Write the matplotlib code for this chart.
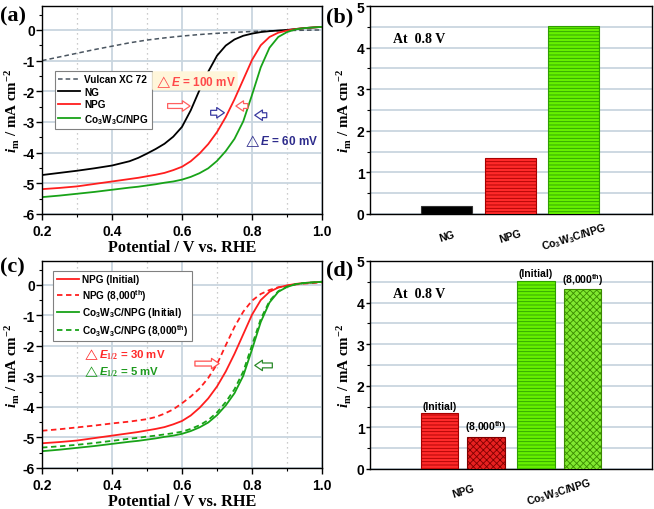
import matplotlib
matplotlib.use("Agg")
import matplotlib.pyplot as plt
from matplotlib.ticker import MultipleLocator, FixedLocator

plt.rcParams['axes.unicode_minus'] = False
plt.rcParams['mathtext.fontset'] = 'custom'
plt.rcParams['mathtext.rm'] = 'Liberation Serif:bold'
plt.rcParams['mathtext.cal'] = 'Liberation Serif:italic:bold'
plt.rcParams['mathtext.it'] = 'Liberation Sans:italic:bold'
plt.rcParams['mathtext.sf'] = 'Liberation Sans:bold'
plt.rcParams['hatch.linewidth'] = 0.6

# ---------------- data ----------------
potential = [0.20, 0.25, 0.30, 0.35, 0.40, 0.45, 0.475, 0.50, 0.525, 0.55, 0.575,
             0.60, 0.625, 0.65, 0.675, 0.70, 0.725, 0.75, 0.775, 0.80, 0.825,
             0.85, 0.875, 0.90, 0.925, 0.95, 0.975, 1.00]
ng = [-4.73, -4.66, -4.59, -4.51, -4.42, -4.28, -4.17, -4.03, -3.88, -3.71, -3.48,
      -3.16, -2.62, -1.96, -1.36, -0.84, -0.51, -0.31, -0.19, -0.12, -0.07,
      -0.04, -0.02, 0.00, 0.03, 0.06, 0.08, 0.10]
npg = [-5.19, -5.15, -5.10, -5.02, -4.94, -4.86, -4.82, -4.77, -4.72, -4.66, -4.57,
       -4.46, -4.28, -4.03, -3.72, -3.33, -2.84, -2.26, -1.62, -0.98, -0.50,
       -0.23, -0.09, -0.02, 0.03, 0.06, 0.08, 0.10]
co3w3c = [-5.45, -5.40, -5.34, -5.28, -5.21, -5.14, -5.11, -5.07, -5.03, -4.98, -4.94,
          -4.88, -4.79, -4.67, -4.51, -4.27, -3.95, -3.55, -2.98, -2.12, -1.22,
          -0.58, -0.23, -0.07, 0.02, 0.06, 0.08, 0.10]
npg_8000 = [-4.78, -4.73, -4.67, -4.61, -4.54, -4.48, -4.44, -4.40, -4.33, -4.22, -4.08,
            -3.88, -3.66, -3.40, -3.05, -2.60, -1.98, -1.38, -0.88, -0.52, -0.30,
            -0.17, -0.08, -0.03, 0.01, 0.04, 0.06, 0.08]
co3w3c_8000 = [-5.33, -5.29, -5.24, -5.18, -5.11, -5.04, -5.01, -4.97, -4.94, -4.90, -4.86,
               -4.81, -4.72, -4.60, -4.43, -4.18, -3.84, -3.42, -2.84, -1.98, -1.12,
               -0.53, -0.21, -0.06, 0.02, 0.06, 0.08, 0.10]
vulcan_potential = [0.20, 0.25, 0.30, 0.35, 0.40, 0.45, 0.50, 0.55, 0.60, 0.65, 0.70,
                    0.75, 0.80, 0.85, 0.90, 0.95, 1.00]
vulcan = [-1.00, -0.88, -0.76, -0.64, -0.53, -0.42, -0.33, -0.26, -0.20, -0.15, -0.11,
          -0.08, -0.05, -0.03, -0.02, -0.01, 0.00]

bar_b_labels = ['NG', 'NPG', r'Co$_{\mathsf{3}}$W$_{\mathsf{3}}$C/NPG']
bar_b_values = [0.20, 1.35, 4.53]

bar_d_groups = ['NPG', r'Co$_{\mathsf{3}}$W$_{\mathsf{3}}$C/NPG']
bar_d_initial = [1.35, 4.53]
bar_d_8000 = [0.78, 4.32]

# ---------------- style ----------------
RED = '#FF1E1E'
GREEN = '#18A318'
GRID = '#C9D6DF'
SANS = 'Liberation Sans'
SERIF = 'Liberation Serif'
co_label = r'Co$_{\mathsf{3}}$W$_{\mathsf{3}}$C/NPG'
YLABEL = r'$\mathcal{i}_{\mathrm{m}}$ / mA cm$^{\mathrm{-2}}$'

fig = plt.figure(figsize=(6.54, 5.10), dpi=100)


def px_axes(l, t, r, b):
    return fig.add_axes([l / 654, 1 - b / 510, (r - l) / 654, (b - t) / 510])


def style_curve_axes(ax):
    ax.set_xlim(0.2, 1.0)
    ax.set_ylim(-6, 0.78)
    ax.xaxis.set_major_locator(FixedLocator([0.2, 0.4, 0.6, 0.8, 1.0]))
    ax.xaxis.set_minor_locator(FixedLocator([0.3, 0.5, 0.7, 0.9]))
    ax.yaxis.set_major_locator(MultipleLocator(1))
    ax.yaxis.set_minor_locator(MultipleLocator(0.5))
    ax.set_xticklabels(['0.2', '0.4', '0.6', '0.8', '1.0'])
    ax.grid(True, which='major', color=GRID, lw=1.3, zorder=0)
    ax.grid(True, which='minor', axis='x', color='#BBBBBB', lw=0.9, ls=(0, (1, 3)), zorder=0)
    ax.set_axisbelow(True)
    ax.tick_params(which='major', direction='out', length=4, width=1, labelsize=10)
    ax.tick_params(axis='y', which='major', pad=1)
    ax.tick_params(axis='x', which='major', pad=3)
    ax.tick_params(which='minor', direction='out', length=2, width=0.8)
    for lab in ax.get_xticklabels() + ax.get_yticklabels():
        lab.set_fontfamily(SANS)
        lab.set_fontweight('bold')
    for s in ax.spines.values():
        s.set_linewidth(1.0)
    ax.set_xlabel('Potential / V vs. RHE', family=SERIF, weight='bold', fontsize=11.7, labelpad=1)
    ax.set_ylabel(YLABEL, family=SERIF, weight='bold', fontsize=10.8, labelpad=1)


def style_bar_axes(ax):
    ax.set_ylim(0, 5)
    ax.yaxis.set_major_locator(MultipleLocator(1))
    ax.yaxis.set_minor_locator(MultipleLocator(0.5))
    ax.grid(True, which='both', axis='y', color=GRID, lw=1.3, zorder=0)
    ax.set_axisbelow(True)
    ax.tick_params(axis='y', which='major', direction='out', length=3, width=1, labelsize=10, pad=1)
    ax.tick_params(axis='y', which='minor', direction='out', length=2, width=0.8)
    ax.tick_params(axis='x', length=0, pad=16, labelsize=7.5)
    for lab in ax.get_yticklabels():
        lab.set_fontfamily(SANS)
        lab.set_fontweight('bold')
    for lab in ax.get_xticklabels():
        lab.set_fontfamily(SANS)
        lab.set_fontweight('bold')
        lab.set_rotation(17)
        lab.set_ha('center')
        lab.set_va('center')
    for s in ax.spines.values():
        s.set_linewidth(1.0)
    ax.set_ylabel(YLABEL, family=SERIF, weight='bold', fontsize=10.8, labelpad=3)
    ax.text(0.08, 0.845, 'At  0.8 V', transform=ax.transAxes, family=SERIF,
            weight='bold', fontsize=10, va='center')


def hollow_arrow(ax, tip, tail, ec):
    ax.annotate('', xy=tip, xytext=tail,
                arrowprops=dict(arrowstyle='simple,head_width=0.75,head_length=0.55,tail_width=0.35',
                                fc='white', ec=ec, lw=0.9), zorder=5)


def make_legend(ax, anchor):
    leg = ax.legend(loc='upper left', bbox_to_anchor=anchor, borderaxespad=0,
                    prop={'family': SANS, 'weight': 'bold', 'size': 7.2}, fancybox=False,
                    framealpha=1, edgecolor='#808080', handlelength=2.2, handletextpad=0.35,
                    labelspacing=0.25, borderpad=0.35)
    leg.get_frame().set_linewidth(0.8)
    leg.set_zorder(4)
    return leg


# ---------------- (a) ----------------
ax_a = px_axes(42, 7, 322, 215)
ax_a.plot(vulcan_potential, vulcan, ls=(0, (3, 2)), color='#4A5560', lw=1.1, label='Vulcan XC 72')
ax_a.plot(potential, ng, color='black', lw=1.3, label='NG')
ax_a.plot(potential, npg, color=RED, lw=1.3, label='NPG')
ax_a.plot(potential, co3w3c, color=GREEN, lw=1.3, label=co_label)
style_curve_axes(ax_a)
make_legend(ax_a, (0.046, 0.688))
ax_a.text(0.637, -1.66, r'$\triangle\mathit{E}$ = 100 mV', color='#FF4A4A', family=SANS,
          weight='bold', fontsize=8.5, ha='center', va='center', zorder=6,
          bbox=dict(boxstyle='round,pad=0.15', fc='#FFF6DA', ec='none'))
ax_a.text(0.883, -3.59, r'$\triangle\mathit{E}$ = 60 mV', color='#2E2C8C', family=SANS,
          weight='bold', fontsize=8.5, ha='center', va='center', zorder=6)
hollow_arrow(ax_a, (0.631, -2.48), (0.551, -2.48), '#FF6060')
hollow_arrow(ax_a, (0.729, -2.70), (0.674, -2.70), '#3A3AA0')
hollow_arrow(ax_a, (0.746, -2.48), (0.796, -2.48), '#FF6060')
hollow_arrow(ax_a, (0.800, -2.78), (0.850, -2.78), '#3A3AA0')

# ---------------- (b) ----------------
ax_b = px_axes(370, 7, 652, 215)
xb = list(range(len(bar_b_values)))
ax_b.bar(xb[0], bar_b_values[0], width=0.8, color='black', edgecolor='#333333', lw=0.8, zorder=3)
ax_b.bar(xb[1], bar_b_values[1], width=0.8, color='#FF2A2A', edgecolor='#A80000',
         hatch='-----', lw=0.8, zorder=3)
ax_b.bar(xb[2], bar_b_values[2], width=0.8, color='#66F000', edgecolor='#2E9E00',
         hatch='-----', lw=0.8, zorder=3)
ax_b.set_xticks(xb)
ax_b.set_xticklabels(bar_b_labels)
ax_b.set_xlim(-1.21, 3.23)
style_bar_axes(ax_b)

# ---------------- (c) ----------------
ax_c = px_axes(42, 262, 322, 469)
ax_c.plot(potential, npg, color=RED, lw=1.3, label='NPG (Initial)')
ax_c.plot(potential, npg_8000, color=RED, lw=1.3, ls=(0, (3, 2)), label=r'NPG (8,000$^{\mathsf{th}}$)')
ax_c.plot(potential, co3w3c, color=GREEN, lw=1.3, label=co_label + ' (Initial)')
ax_c.plot(potential, co3w3c_8000, color=GREEN, lw=1.3, ls=(0, (3, 2)),
          label=co_label + r' (8,000$^{\mathsf{th}}$)')
style_curve_axes(ax_c)
make_legend(ax_c, (0.04, 0.952))
ax_c.text(0.314, -2.24, r'$\triangle\mathit{E}_{\mathit{1/2}}$ = 30 mV', color='#FF2A2A',
          family=SANS, weight='bold', fontsize=8.2, ha='left', va='center')
ax_c.text(0.314, -2.82, r'$\triangle\mathit{E}_{\mathit{1/2}}$ = 5 mV', color='#1E9A1E',
          family=SANS, weight='bold', fontsize=8.2, ha='left', va='center')
hollow_arrow(ax_c, (0.714, -2.58), (0.629, -2.58), '#FF5050')
hollow_arrow(ax_c, (0.800, -2.64), (0.866, -2.64), '#2A8A2A')

# ---------------- (d) ----------------
ax_d = px_axes(370, 262, 652, 470)
xd = list(range(len(bar_d_groups)))
off = 0.24
w = 0.39
faces_i = ['#FF2A2A', '#66F000']
edges_i = ['#A80000', '#2E9E00']
faces_8 = ['#E82020', '#80E830']
edges_8 = ['#800000', '#3A8A00']
for i in xd:
    ax_d.bar(i - off, bar_d_initial[i], width=w, color=faces_i[i], edgecolor=edges_i[i],
             hatch='-----', lw=0.8, zorder=3)
    ax_d.bar(i + off, bar_d_8000[i], width=w, color=faces_8[i], edgecolor=edges_8[i],
             hatch='xxxxx', lw=0.8, zorder=3)
    ax_d.annotate('(Initial)', (i - off, bar_d_initial[i]), xytext=(0, 1.5),
                  textcoords='offset points', ha='center', va='bottom',
                  family=SANS, weight='bold', fontsize=7.5)
    ax_d.annotate(r'(8,000$^{\mathsf{th}}$)', (i + off, bar_d_8000[i]), xytext=(0, 1.5),
                  textcoords='offset points', ha='center', va='bottom',
                  family=SANS, weight='bold', fontsize=7.5)
ax_d.set_xticks(xd)
ax_d.set_xticklabels(bar_d_groups)
ax_d.set_xlim(-0.96, 1.96)
style_bar_axes(ax_d)

# ---------------- panel labels ----------------
for x, y, s in [(0, 6, '(a)'), (326, 7, '(b)'), (0, 257, '(c)'), (326, 260, '(d)')]:
    fig.text(x / 654, 1 - y / 510, s, family=SERIF, weight='bold', fontsize=16, va='top', ha='left')

fig.savefig('out.png', dpi=100)
